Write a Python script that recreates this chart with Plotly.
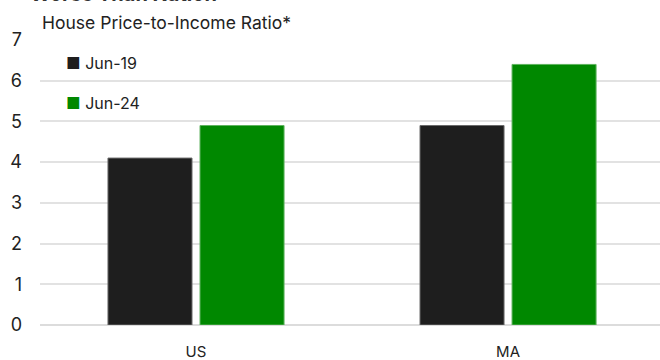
import plotly.graph_objects as go

categories = ["US", "MA"]
series_names = ["Jun-19", "Jun-24"]
jun19 = [4.1, 4.9]
jun24 = [4.9, 6.4]
y_ticks = [0, 1, 2, 3, 4, 5, 6, 7]

colors = ["#1e1e1e", "#008800"]
outline = ["#6a6a6a", "#5fb35f"]
FONT = "Inter"

fig = go.Figure()
for name, vals, c, oc in zip(series_names, [jun19, jun24], colors, outline):
    fig.add_trace(go.Bar(x=categories, y=vals, name=name,
                         marker=dict(color=c, line=dict(color=oc, width=1))))

# legend drawn as text entries (swatch + label)
legend_anns = []
for i, (name, c) in enumerate(zip(series_names, colors)):
    legend_anns.append(dict(
        text=f"<span style='color:{c};font-size:16px'>■</span> {name}",
        xref="paper", yref="paper", x=(64 - 40) / 620, y=1 - (23 + 39.5 * i) / 285,
        xanchor="left", yanchor="middle", showarrow=False,
        font=dict(family=FONT, size=16, color="#222222")))

fig.update_layout(
    width=660, height=360,
    margin=dict(l=40, r=0, t=40, b=35),
    paper_bgcolor="white", plot_bgcolor="white",
    barmode="group", bargap=0.41, bargroupgap=0.087,
    font=dict(family=FONT, size=17, color="#222222"),
    showlegend=False,
    xaxis=dict(range=[-0.5, 1.487], showgrid=False, zeroline=False,
               showline=False, ticks="", ticklabelstandoff=16,
               tickfont=dict(size=15), automargin=False),
    yaxis=dict(range=[0, 7], tickvals=y_ticks, showgrid=True,
               gridcolor="#e2e2e2", gridwidth=2, zeroline=True,
               zerolinecolor="#dcdcdc", zerolinewidth=2, showline=False,
               ticks="", ticklabelstandoff=17, tickfont=dict(size=18),
               automargin=False),
    annotations=[
        dict(text="House Price-to-Income Ratio*", xref="paper", yref="paper",
             x=0.0, y=1.0, xanchor="left", yanchor="bottom", showarrow=False,
             yshift=5, font=dict(size=17.5, color="#222222")),
        dict(text="<b>Worse Than Nation</b>", xref="paper", yref="paper",
             x=-0.019, y=1.112, xanchor="left", yanchor="bottom", showarrow=False,
             yshift=0, font=dict(size=20, color="#333333")),
    ] + legend_anns,
)

fig.write_html("out.html", config={"displayModeBar": False},
               post_script="document.body.style.margin='0';document.body.style.overflow='hidden';")
